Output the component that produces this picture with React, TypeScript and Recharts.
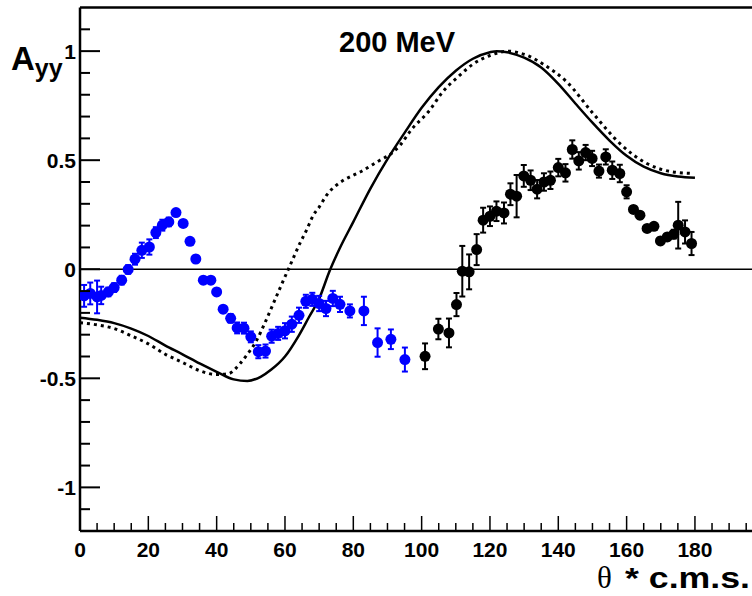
import React from "react";
import { ComposedChart, Line, Scatter, XAxis, YAxis, ErrorBar, ReferenceLine } from "recharts";

// theory curves (solid / dotted)
const solidTheta = [0, 5, 10, 15, 20, 25, 30, 35, 40, 45, 49, 53, 56, 60, 64, 67, 70, 73, 76, 80, 85, 90, 95, 100, 105, 110, 115, 120, 122, 125, 130, 135, 140, 145, 150, 155, 160, 165, 170, 175, 180];
const solidAyy = [-0.222, -0.232, -0.247, -0.272, -0.306, -0.35, -0.39, -0.432, -0.47, -0.505, -0.512, -0.492, -0.46, -0.4, -0.305, -0.22, -0.135, -0.01, 0.095, 0.217, 0.37, 0.505, 0.625, 0.74, 0.835, 0.91, 0.965, 0.995, 1.0, 0.995, 0.97, 0.925, 0.85, 0.76, 0.672, 0.59, 0.52, 0.47, 0.44, 0.425, 0.419];

const dottedTheta = [0, 5, 10, 15, 20, 25, 30, 35, 40, 43.4, 46.8, 49, 51.7, 54, 56.6, 59, 61.5, 64.4, 66.3, 68.3, 70, 72.2, 75, 77.1, 82, 87.8, 91.2, 93.7, 97, 102.4, 106, 111.2, 115, 120, 125.8, 128, 131.7, 135.6, 142.4, 150.2, 158, 165.9, 173.6, 179.5];
const dottedAyy = [-0.245, -0.255, -0.272, -0.305, -0.342, -0.39, -0.427, -0.465, -0.483, -0.479, -0.433, -0.39, -0.326, -0.25, -0.157, -0.07, 0.018, 0.12, 0.179, 0.248, 0.285, 0.34, 0.385, 0.408, 0.446, 0.5, 0.531, 0.569, 0.64, 0.73, 0.81, 0.89, 0.94, 0.98, 1.0, 0.994, 0.975, 0.94, 0.86, 0.714, 0.577, 0.485, 0.446, 0.439];

// blue data set
const blueTheta = [1.2, 3.0, 5.0, 6.2, 8.3, 10.0, 12.2, 14.1, 16.1, 18.1, 20.3, 22.2, 24.1, 26.0, 28.1, 30.2, 32.2, 33.9, 36.1, 38.3, 40.0, 41.9, 44.1, 46.0, 48.0, 50.0, 52.2, 54.3, 56.1, 58.0, 60.0, 62.0, 64.1, 66.1, 68.0, 70.0, 72.0, 74.0, 76.1, 79.0, 83.1, 87.1, 91.0, 95.1];
const blueAyy = [-0.122, -0.111, -0.127, -0.12, -0.104, -0.084, -0.05, -0.001, 0.046, 0.087, 0.102, 0.168, 0.202, 0.217, 0.26, 0.21, 0.128, 0.047, -0.05, -0.05, -0.104, -0.183, -0.225, -0.269, -0.27, -0.31, -0.378, -0.375, -0.307, -0.294, -0.282, -0.252, -0.211, -0.147, -0.138, -0.157, -0.18, -0.134, -0.161, -0.191, -0.191, -0.336, -0.321, -0.414];
const blueErr = [0.05, 0.05, 0.075, 0.04, 0.02, 0.02, 0.02, 0.02, 0.025, 0.035, 0.035, 0.025, 0.025, 0.02, 0.015, 0.015, 0.015, 0.015, 0.015, 0.015, 0.015, 0.015, 0.02, 0.025, 0.025, 0.025, 0.03, 0.03, 0.03, 0.03, 0.035, 0.035, 0.035, 0.03, 0.03, 0.035, 0.035, 0.035, 0.035, 0.03, 0.065, 0.065, 0.045, 0.055];

// black data set
const blackTheta = [101.0, 104.9, 108.0, 110.2, 111.9, 113.9, 116.1, 118.0, 120.0, 121.9, 124.1, 126.0, 127.8, 129.9, 131.9, 133.8, 135.8, 137.7, 140.0, 142.1, 144.1, 146.0, 148.0, 149.9, 151.9, 153.9, 155.8, 158.0, 160.0, 162.0, 163.9, 166.0, 168.0, 169.9, 171.9, 173.8, 175.1, 177.1, 179.0];
const blackAyy = [-0.399, -0.274, -0.292, -0.162, -0.009, -0.012, 0.09, 0.225, 0.243, 0.266, 0.258, 0.344, 0.335, 0.428, 0.408, 0.367, 0.4, 0.408, 0.466, 0.442, 0.549, 0.497, 0.535, 0.508, 0.45, 0.515, 0.454, 0.439, 0.355, 0.274, 0.248, 0.187, 0.197, 0.13, 0.148, 0.161, 0.202, 0.171, 0.118];
const blackErr = [0.059, 0.047, 0.066, 0.053, 0.116, 0.08, 0.071, 0.057, 0.045, 0.045, 0.048, 0.05, 0.097, 0.05, 0.045, 0.042, 0.04, 0.04, 0.04, 0.04, 0.042, 0.04, 0.035, 0.035, 0.03, 0.035, 0.04, 0.04, 0.03, 0.015, 0.015, 0.015, 0.015, 0.015, 0.015, 0.02, 0.107, 0.053, 0.053];

// axis ticks (major ones get a label)
const xMajor = [0, 20, 40, 60, 80, 100, 120, 140, 160, 180];
const xTicks = [0, 5, 10, 15, 20, 25, 30, 35, 40, 45, 50, 55, 60, 65, 70, 75, 80, 85, 90, 95, 100, 105, 110, 115, 120, 125, 130, 135, 140, 145, 150, 155, 160, 165, 170, 175, 180, 185, 190, 195];
const yMajor = [-1, -0.5, 0, 0.5, 1];
const yTicks = [-1.1, -1, -0.9, -0.8, -0.7, -0.6, -0.5, -0.4, -0.3, -0.2, -0.1, 0, 0.1, 0.2, 0.3, 0.4, 0.5, 0.6, 0.7, 0.8, 0.9, 1, 1.1];

const zip = (xs: number[], ys: number[], es?: number[]) =>
  xs.map((x, i) => ({ x, y: ys[i], e: es ? es[i] : 0 }));

const solidCurve = zip(solidTheta, solidAyy);
const dottedCurve = zip(dottedTheta, dottedAyy);
const bluePts = zip(blueTheta, blueAyy, blueErr);
const blackPts = zip(blackTheta, blackAyy, blackErr);

const font = "'Liberation Sans', Arial, Helvetica, sans-serif";
const isMajor = (list: number[], v: number) => list.some((m) => Math.abs(m - v) < 1e-6);

const X_MARGIN = 11;
const Y_MARGIN = 4;

// ticks drawn inside the frame, ROOT style
const XTick = (p: any) => {
  const v = p.payload.value;
  const major = isMajor(xMajor, v);
  const ay = p.y - X_MARGIN;
  return (
    <g>
      <line x1={p.x} x2={p.x} y1={ay} y2={ay - (major ? 15 : 8)} stroke="#000" strokeWidth={1.5} />
      {major && (
        <text x={p.x} y={p.y} dy="0.71em" textAnchor="middle" fill="#000" fontSize={21} fontWeight="bold" fontFamily={font}>
          {v}
        </text>
      )}
    </g>
  );
};

const YTick = (p: any) => {
  const v = p.payload.value;
  const major = isMajor(yMajor, v);
  const ax = p.x + Y_MARGIN;
  return (
    <g>
      <line x1={ax} x2={ax + (major ? 20 : 10)} y1={p.y} y2={p.y} stroke="#000" strokeWidth={2} />
      {major && (
        <text x={p.x} y={p.y} dy="0.355em" textAnchor="end" fill="#000" fontSize={21} fontWeight="bold" fontFamily={font}>
          {v}
        </text>
      )}
    </g>
  );
};

const dot = (color: string) => (p: any) => <circle cx={p.cx} cy={p.cy} r={5.5} fill={color} />;

export default function App() {
  return (
    <div style={{ position: "absolute", left: 0, top: 0, width: 752, height: 596, background: "#fff" }}>
      <ComposedChart width={752} height={596} margin={{ top: 7.5, right: 0, bottom: 0, left: 0 }}>
        <XAxis xAxisId="x" dataKey="x" type="number" domain={[0, 196.7]} ticks={xTicks} interval={0} allowDataOverflow
          height={65} tickLine={false} tickSize={0} tickMargin={X_MARGIN} tick={<XTick />}
          axisLine={{ stroke: "#000", strokeWidth: 2.5 }} />
        <YAxis yAxisId="y" dataKey="y" type="number" domain={[-1.2, 1.2]} ticks={yTicks} interval={0} allowDataOverflow
          width={80} tickLine={false} tickSize={0} tickMargin={Y_MARGIN} tick={<YTick />}
          axisLine={{ stroke: "#000", strokeWidth: 2.5 }} />

        <ReferenceLine xAxisId="x" yAxisId="y" y={1.2} stroke="#000" strokeWidth={2.5} />
        <ReferenceLine xAxisId="x" yAxisId="y" y={0} stroke="#000" strokeWidth={1.5} />

        <Line xAxisId="x" yAxisId="y" data={solidCurve} dataKey="y" type="monotone" dot={false}
          stroke="#000" strokeWidth={2.5} isAnimationActive={false} />
        <Line xAxisId="x" yAxisId="y" data={dottedCurve} dataKey="y" type="monotone" dot={false}
          stroke="#000" strokeWidth={3} strokeDasharray="3 4" isAnimationActive={false} />

        <Scatter xAxisId="x" yAxisId="y" data={bluePts} dataKey="y" fill="#0000ff" shape={dot("#0000ff")} isAnimationActive={false}>
          <ErrorBar dataKey="e" direction="y" width={3} stroke="#0000ff" strokeWidth={2} isAnimationActive={false} />
        </Scatter>
        <Scatter xAxisId="x" yAxisId="y" data={blackPts} dataKey="y" fill="#000" shape={dot("#000")} isAnimationActive={false}>
          <ErrorBar dataKey="e" direction="y" width={3} stroke="#000" strokeWidth={2} isAnimationActive={false} />
        </Scatter>
      </ComposedChart>

      <svg width={752} height={596} style={{ position: "absolute", left: 0, top: 0, pointerEvents: "none" }}>
        <text x={11} y={70} fontFamily={font} fontWeight="bold" fontSize={33}>
          A<tspan fontSize={25} dy={7}>yy</tspan>
        </text>
        <text x={339} y={52} fontFamily={font} fontWeight="bold" fontSize={29}>200 MeV</text>
        <text x={597} y={588} fontFamily="'Liberation Serif', 'Times New Roman', serif" fontSize={31}>θ</text>
        <text x={625} y={588} textLength={125} lengthAdjust="spacingAndGlyphs" fontFamily={font} fontWeight="bold" fontSize={29}>
          * c.m.s.
        </text>
      </svg>
    </div>
  );
}
